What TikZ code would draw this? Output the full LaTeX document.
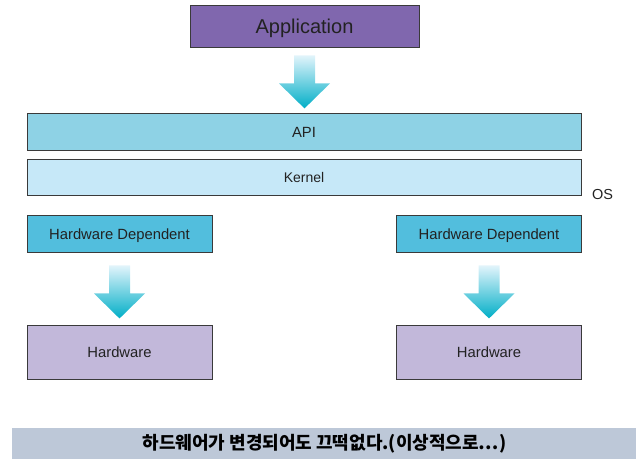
\documentclass[tikz,border=0pt]{standalone}
\usepackage{fontspec}
\setmainfont{Liberation Sans}
\newfontfamily\krfont{Noto Sans CJK KR}
\usetikzlibrary{calc}
\definecolor{appviolet}{HTML}{8067AE}
\definecolor{apiblue}{HTML}{8ED2E5}
\definecolor{kernelblue}{HTML}{C6E8F8}
\definecolor{hwdepblue}{HTML}{52BEDD}
\definecolor{hwlilac}{HTML}{C2B8DA}
\definecolor{bannergrey}{HTML}{BDC8D8}
\definecolor{arrowtop}{HTML}{E2F4FB}
\definecolor{arrowbot}{HTML}{00AEC7}
\definecolor{edgegrey}{HTML}{3A3A3A}
\definecolor{inkgrey}{HTML}{222222}

% block arrow, tail centre given
\newcommand{\downarrowblock}[1]{%
  \shade[top color=arrowtop, bottom color=arrowbot]
    ($(#1)+(-10.5,0)$) -- ++(21,0) -- ++(0,28) -- ++(15,0)
    -- ($(#1)+(0,53)$) -- ($(#1)+(-25.5,28)$) -- ++(15,0) -- cycle;}

\begin{document}
\begin{tikzpicture}[x=1pt, y=-1pt,
    layer/.style={draw=edgegrey, line width=0.8pt, text=inkgrey,
      inner sep=0pt, text height=10.6pt, text depth=0pt,
      font=\fontsize{14.8}{16}\selectfont},
    appbox/.style={layer, fill=appviolet, minimum width=229pt,
      minimum height=42pt, text height=14.4pt,
      font=\fontsize{20}{22}\selectfont},
    wide/.style={layer, minimum width=554pt, minimum height=36.5pt},
    hwdep/.style={layer, fill=hwdepblue, minimum width=185pt,
      minimum height=36.5pt},
    hwbox/.style={layer, fill=hwlilac, minimum width=185pt,
      minimum height=54pt}]
    \useasboundingbox (0,0) rectangle (636,459);

    % top of the stack
    \node[appbox] (app) at (304.5,26.5) {Application};
    \node[wide, fill=apiblue] (api) at (304,131.7) {API};
    \node[wide, fill=kernelblue, text height=10pt, font=\fontsize{14}{16}\selectfont] (kernel) at (304,177.5) {Kernel};
    \node[text=inkgrey, font=\fontsize{14.5}{16}\selectfont] (os) at (602.5,194) {OS};

    % hardware side
    \node[hwdep] (depL) at (119.5,233.8) {Hardware Dependent};
    \node[hwdep] (depR) at (489,233.8) {Hardware Dependent};
    \node[hwbox] (hwL) at (119.5,352) {Hardware};
    \node[hwbox] (hwR) at (489,352) {Hardware};

    % arrows
    \coordinate (tailA) at ($(app.south)+(0,7.5)$);
    \coordinate (tailL) at ($(depL.south)+(0,13)$);
    \coordinate (tailR) at ($(depR.south)+(0,13)$);
    \downarrowblock{tailA}
    \downarrowblock{tailL}
    \downarrowblock{tailR}

    % caption bar
    \fill[bannergrey] (12,428) rectangle (636,459);
    \node[font=\krfont\bfseries\fontsize{18}{20}\selectfont, text=black] (caption) at (324.5,443.5)
      {하드웨어가 변경되어도 끄떡없다.(이상적으로…)};
\end{tikzpicture}
\end{document}
